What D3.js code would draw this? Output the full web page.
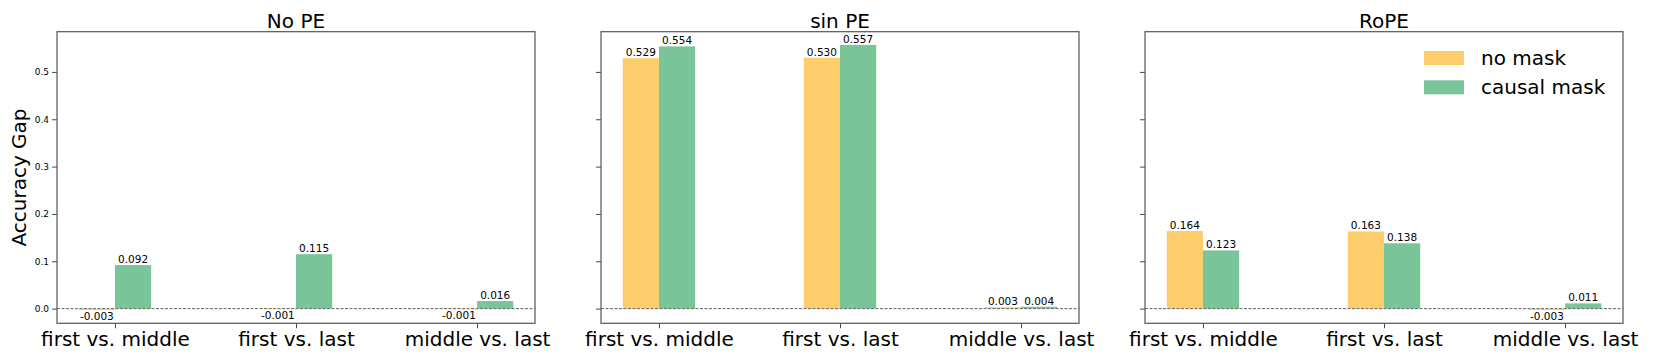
<html>

<head>
  <meta charset="utf-8">
  <title>Accuracy Gap</title>
  <script src="https://d3js.org/d3.v7.min.js"></script>
  <style>
    body { margin: 0; background: #fff; }
    text { font-family: "DejaVu Sans", sans-serif; fill: #000; }
    .domain { display: none; }
    .tick line { stroke: #333; stroke-width: 0.9; }
  </style>
</head>

<body>
  <div id="chart"></div>

  <script type="text/javascript">

    // data
    var panels = ['No PE', 'sin PE', 'RoPE'];
    var categories = ['first vs. middle', 'first vs. last', 'middle vs. last'];
    var series = ['no mask', 'causal mask'];
    var noMask = [
      [-0.003, -0.001, -0.001],
      [0.529, 0.530, 0.003],
      [0.164, 0.163, -0.003]
    ];
    var causalMask = [
      [0.092, 0.115, 0.016],
      [0.554, 0.557, 0.004],
      [0.123, 0.138, 0.011]
    ];
    var yTicks = [0.0, 0.1, 0.2, 0.3, 0.4, 0.5];
    var colors = ['#fdcd6b', '#7ac49a'];

    // layout
    var totalWidth = 1661, totalHeight = 361;
    var panelLeft = [57, 601, 1145];
    var panelTop = 31.7;
    var width = 478;
    var height = 291.6;
    var barWidth = 0.2;

    var x = d3.scaleLinear().domain([-0.32, 2.32]).range([0, width]);
    var y = d3.scaleLinear().domain([-0.031, 0.585]).range([height, 0]);

    var svg = d3.select('#chart')
                .append('svg')
                  .attr('width', totalWidth)
                  .attr('height', totalHeight);

    // y label
    svg.append('text')
         .attr('transform', 'translate(26,' + (panelTop + height / 2) + ') rotate(-90)')
         .attr('text-anchor', 'middle')
         .style('font-size', '20px')
         .text('Accuracy Gap');

    panels.forEach(function(name, p) {
      var g = svg.append('g')
                   .attr('transform', 'translate(' + panelLeft[p] + ',' + panelTop + ')');

      var rows = categories.map(function(c, i) {
        return [
          {cat: i, s: 0, v: noMask[p][i]},
          {cat: i, s: 1, v: causalMask[p][i]}
        ];
      });
      var bars = [].concat.apply([], rows);

      // bars
      g.selectAll('rect.bar')
         .data(bars)
         .enter().append('rect')
           .attr('class', 'bar')
           .attr('x', function(d) { return x(d.cat + (d.s - 1) * barWidth); })
           .attr('width', x(barWidth) - x(0))
           .attr('y', function(d) { return y(Math.max(0, d.v)); })
           .attr('height', function(d) { return Math.abs(y(d.v) - y(0)); })
           .attr('fill', function(d) { return colors[d.s]; });

      // zero line
      g.append('line')
         .attr('x1', 0).attr('x2', width)
         .attr('y1', y(0)).attr('y2', y(0))
         .attr('stroke', '#666')
         .attr('stroke-width', 1)
         .attr('stroke-dasharray', '3,1.5');

      // bar labels
      g.selectAll('text.lbl')
         .data(bars)
         .enter().append('text')
           .attr('class', 'lbl')
           .attr('x', function(d) { return x(d.cat + (d.s - 0.5) * barWidth); })
           .attr('y', function(d) { return d.v < 0 ? y(d.v) + 10 : y(d.v) - 2; })
           .attr('text-anchor', 'middle')
           .style('font-size', '10.5px')
           .text(function(d) { return d.v.toFixed(3); });

      // axes
      g.append('g')
         .attr('transform', 'translate(0,' + height + ')')
         .call(d3.axisBottom(x)
                 .tickValues([0, 1, 2])
                 .tickFormat(function(d) { return categories[d]; })
                 .tickSizeOuter(0)
                 .tickSize(5)
                 .tickPadding(4))
         .selectAll('text')
           .style('font-size', '20px');

      var yAxis = g.append('g')
         .call(d3.axisLeft(y)
                 .tickValues(yTicks)
                 .tickFormat(p === 0 ? d3.format('.1f') : function() { return ''; })
                 .tickSizeOuter(0)
                 .tickSize(5)
                 .tickPadding(3));
      yAxis.selectAll('text').style('font-size', '9px');

      // frame
      g.append('rect')
         .attr('width', width)
         .attr('height', height)
         .attr('fill', 'none')
         .attr('stroke', '#555')
         .attr('stroke-width', 1.2);

      // title
      g.append('text')
         .attr('x', width / 2)
         .attr('y', 27.5 - panelTop)
         .attr('text-anchor', 'middle')
         .style('font-size', '20px')
         .text(name);

      // legend only on the last panel
      if (p === 2) {
        var leg = g.append('g')
                     .attr('transform', 'translate(' + (1424 - panelLeft[p]) + ',' + (51 - panelTop) + ')');
        series.forEach(function(s, i) {
          leg.append('rect')
               .attr('x', 0).attr('y', i * 29.3)
               .attr('width', 40).attr('height', 14)
               .attr('fill', colors[i]);
          leg.append('text')
               .attr('x', 57).attr('y', i * 29.3 + 14)
               .style('font-size', '20px')
               .text(s);
        });
      }
    });

  </script>
</body>

</html>
